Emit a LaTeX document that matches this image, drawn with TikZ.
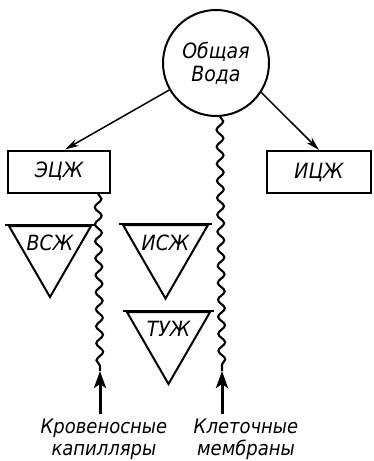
\documentclass[tikz,border=0pt]{standalone}
\usepackage{fontspec}
\newfontfamily\gost{DejaVu Sans Condensed}[ItalicFont={DejaVu Sans Condensed Oblique}]
\usetikzlibrary{shapes.geometric,decorations.pathmorphing,arrows.meta}
\begin{document}
\begin{tikzpicture}[x=1pt,y=-1pt,
  every node/.style={font=\gost\itshape\fontsize{21}{23}\selectfont},
  box/.style={draw,line width=2pt,minimum width=102pt,minimum height=42pt,inner sep=0pt},
  tri/.style={draw,line width=2pt,regular polygon,regular polygon sides=3,shape border rotate=180,inner sep=0pt},
  wave/.style={line width=2.1pt,decorate,decoration={snake,amplitude=3.4pt,segment length=17pt}},
  thinarrow/.style={line width=1.5pt,-{Stealth[length=14pt,width=7.5pt]}},
  bigarrow/.style={line width=3pt,-{Stealth[length=17pt,width=12pt,inset=4pt]}},
  lbl/.style={align=center,inner sep=0pt,font=\gost\itshape\fontsize{20}{22}\selectfont}]
\useasboundingbox (0,0) rectangle (374,461);
\node[draw,circle,line width=2pt,minimum size=106pt,inner sep=0pt,align=center,font=\gost\itshape\fontsize{21}{23}\selectfont] (obw) at (216,63) {Общая\\Вода};
\node[box] (ecz) at (59,171.5) {ЭЦЖ};
\node[box,minimum width=104pt] (icz) at (319,172) {ИЦЖ};
\node[tri,minimum size=94.7pt,label={[name=vszt,yshift=7pt]center:ВСЖ}] (vsz) at (50,249.7) {};
\node[tri,minimum size=98pt,label={[name=iszt,yshift=7pt]center:ИСЖ}] (isz) at (165.5,249.5) {};
\node[tri,minimum size=96pt,label={[name=tuzt,yshift=7pt]center:ТУЖ}] (tuz) at (168.5,336) {};
\foreach \t in {vsz,isz,tuz}{\draw[line width=2.8pt] ([xshift=2pt]\t.corner 2) -- ([xshift=-2pt]\t.corner 3);}
\draw[thinarrow] (obw.210) -- ([xshift=6pt]ecz.north);
\draw[thinarrow] (obw.327) -- (icz.north);
\coordinate (lwtop) at (ecz.south -| 98,0);
\coordinate (lwend) at (100,371);
\coordinate (rwtop) at (obw.274);
\coordinate (rwend) at (222,371);
\draw[wave] (lwtop) -- (lwend);
\draw[wave] (rwtop |- 0,116) -- (rwend);
\node[lbl] (kap) at (104,439) {Кровеносные\\капилляры};
\node[lbl] (mem) at (246,439) {Клеточные\\мембраны};
\draw[bigarrow] (kap.north -| lwend) ++(0,-4) -- (lwend);
\draw[bigarrow] (mem.north -| rwend) ++(0,-4) -- (rwend);
\end{tikzpicture}
\end{document}
